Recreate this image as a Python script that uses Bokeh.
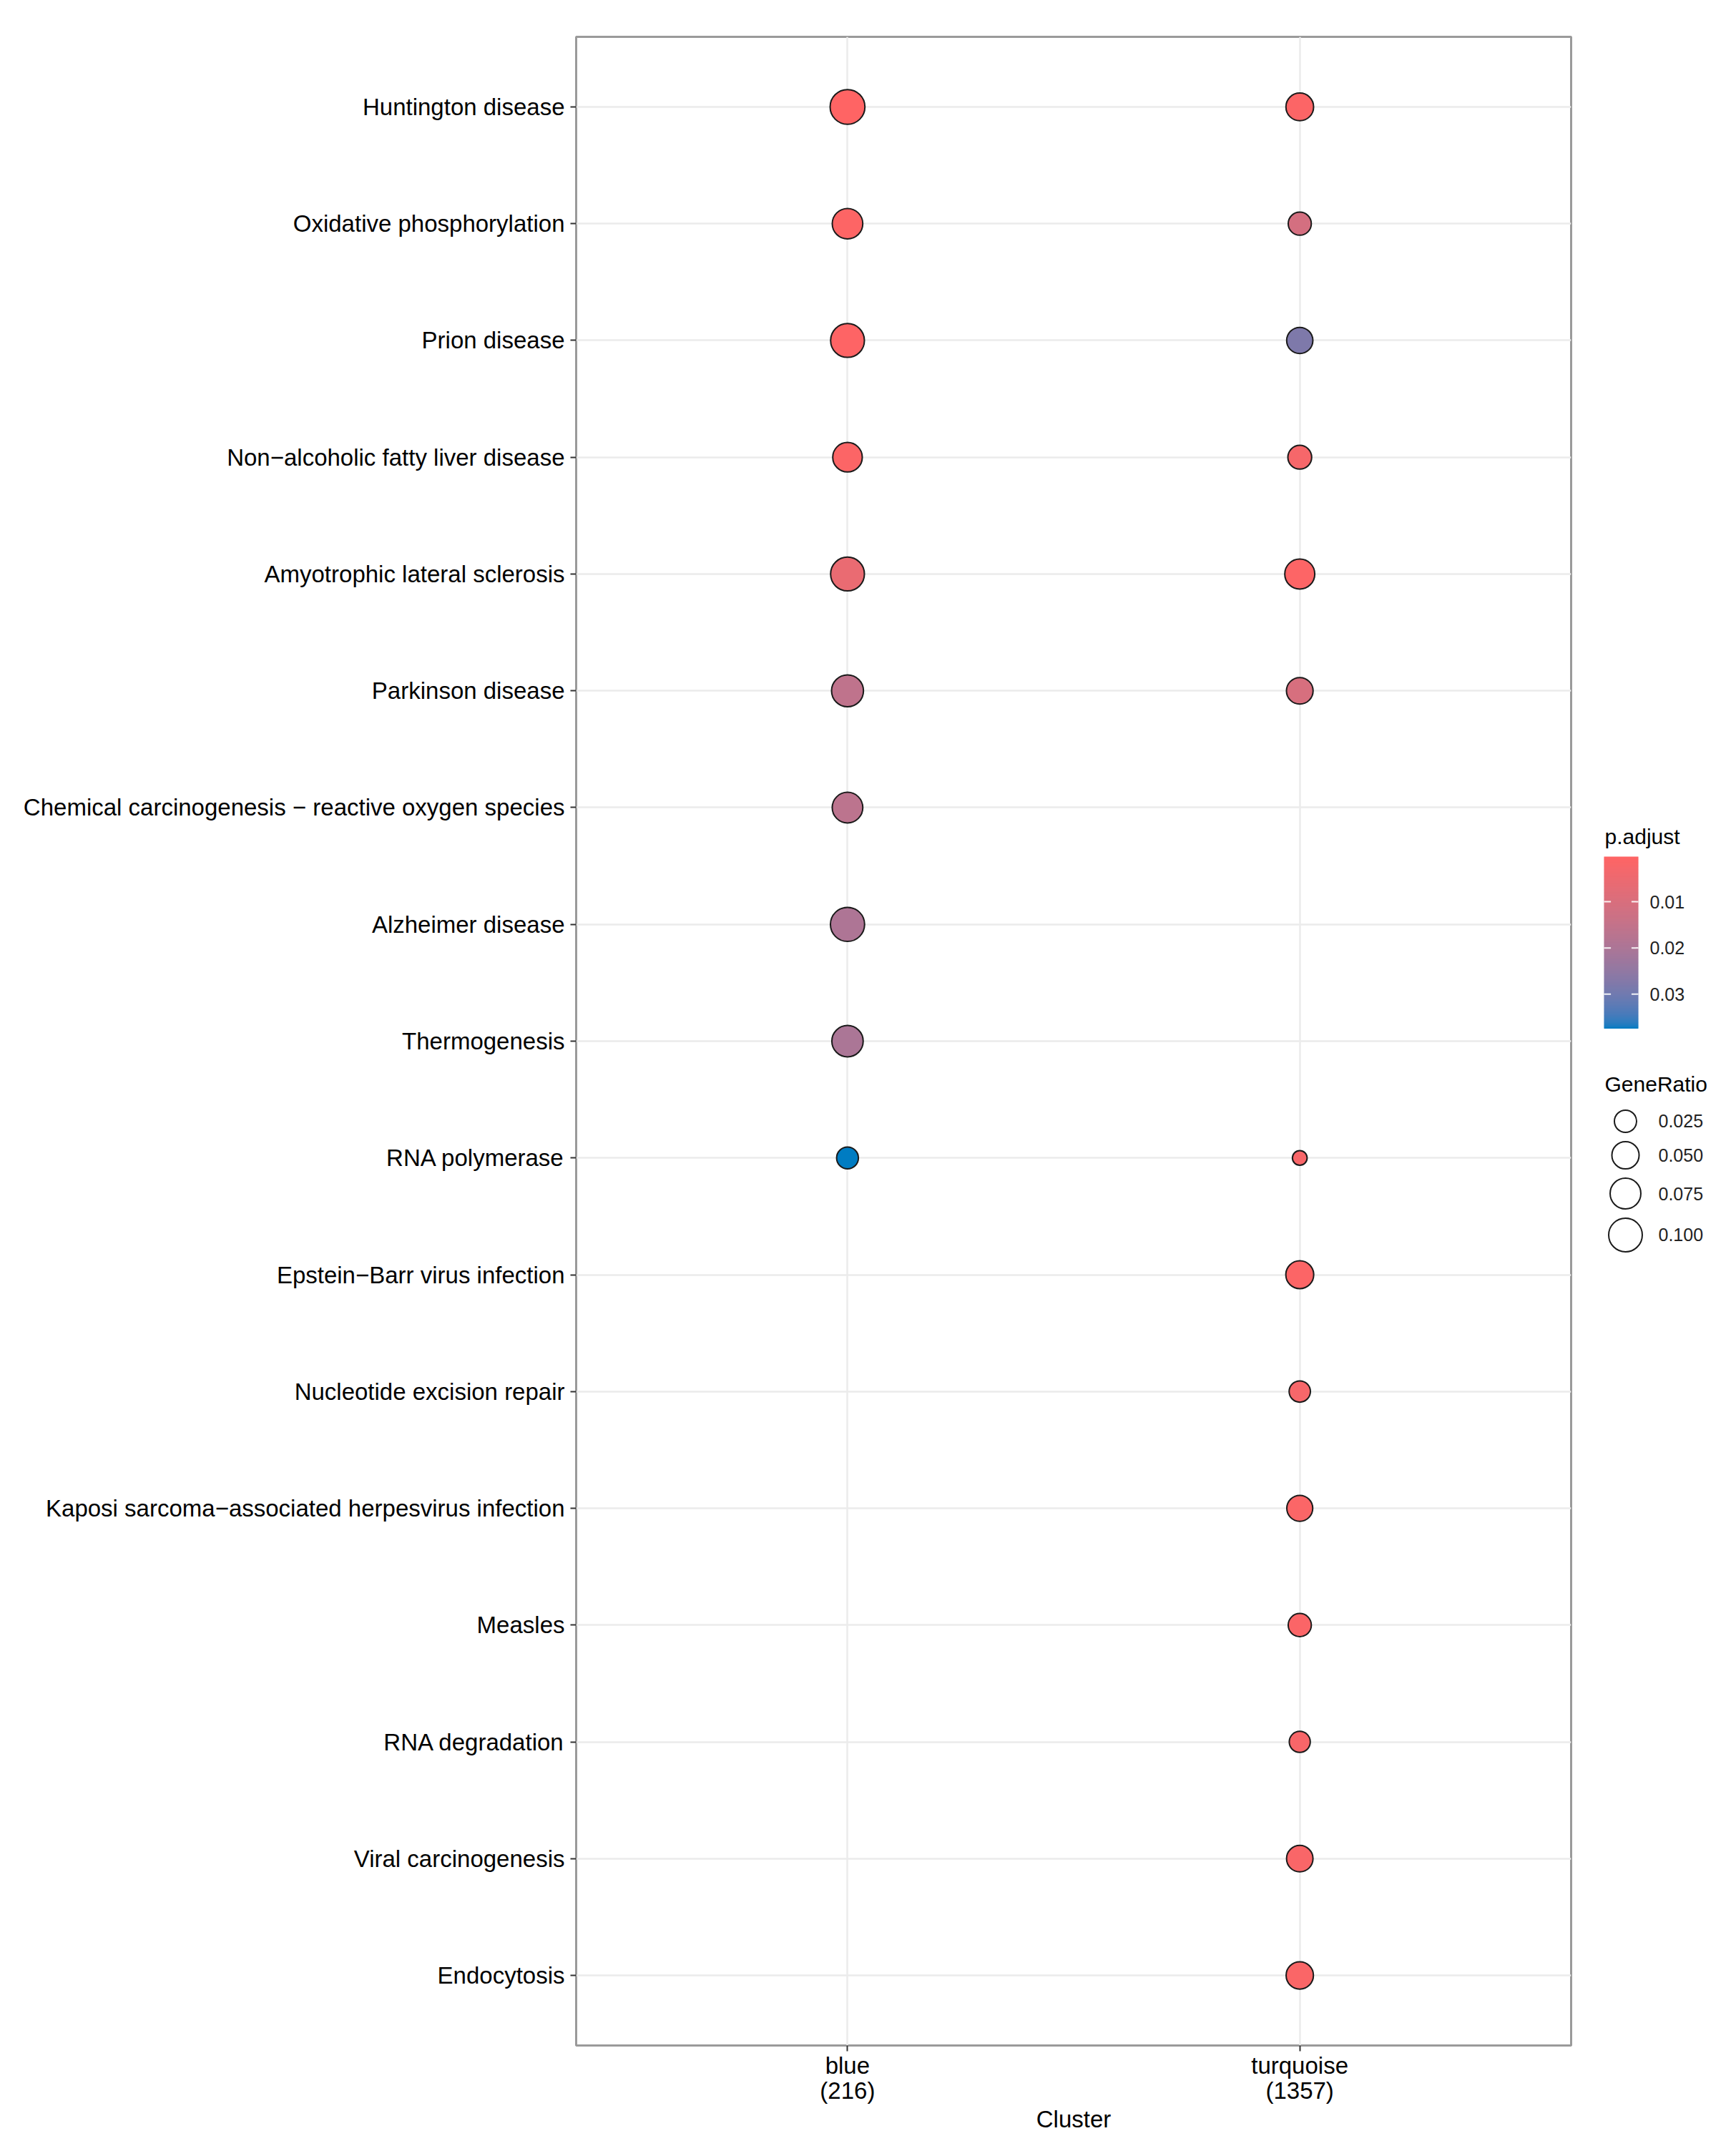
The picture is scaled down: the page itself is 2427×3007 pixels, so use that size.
import numpy as np
from bokeh.plotting import figure
from bokeh.models import (Range1d, FixedTicker, ColumnDataSource, Label)
from bokeh.transform import linear_cmap
from bokeh.layouts import row
from bokeh.embed import file_html
from bokeh.resources import INLINE

# ---------------- data ----------------
pathways = [
    "Huntington disease",
    "Oxidative phosphorylation",
    "Prion disease",
    "Non\u2212alcoholic fatty liver disease",
    "Amyotrophic lateral sclerosis",
    "Parkinson disease",
    "Chemical carcinogenesis \u2212 reactive oxygen species",
    "Alzheimer disease",
    "Thermogenesis",
    "RNA polymerase",
    "Epstein\u2212Barr virus infection",
    "Nucleotide excision repair",
    "Kaposi sarcoma\u2212associated herpesvirus infection",
    "Measles",
    "RNA degradation",
    "Viral carcinogenesis",
    "Endocytosis",
]
clusters = ["blue", "turquoise"]
cluster_sizes = [216, 1357]

pt_cluster = ["blue"] * 10 + ["turquoise"] * 14
pt_pathway = [
    "Huntington disease", "Oxidative phosphorylation", "Prion disease",
    "Non\u2212alcoholic fatty liver disease", "Amyotrophic lateral sclerosis",
    "Parkinson disease", "Chemical carcinogenesis \u2212 reactive oxygen species",
    "Alzheimer disease", "Thermogenesis", "RNA polymerase",
    "Huntington disease", "Oxidative phosphorylation", "Prion disease",
    "Non\u2212alcoholic fatty liver disease", "Amyotrophic lateral sclerosis",
    "Parkinson disease", "RNA polymerase", "Epstein\u2212Barr virus infection",
    "Nucleotide excision repair", "Kaposi sarcoma\u2212associated herpesvirus infection",
    "Measles", "RNA degradation", "Viral carcinogenesis", "Endocytosis",
]
gene_ratio = [0.112, 0.0735, 0.102, 0.066, 0.102, 0.085, 0.074, 0.1055, 0.080, 0.0237,
              0.053, 0.0286, 0.0442, 0.0317, 0.0695, 0.0467, 0.0112, 0.0544, 0.022, 0.0426,
              0.0289, 0.0211, 0.0455, 0.0507]
p_adjust = [0.00023, 0.0008, 0.0006, 0.0010, 0.0058, 0.0159, 0.0165, 0.0195, 0.0200, 0.0374,
            0.0012, 0.0110, 0.0281, 0.0028, 0.0009, 0.0105, 0.0020, 0.0011, 0.0025, 0.0015,
            0.0013, 0.0022, 0.0018, 0.0016]

size_breaks = [0.025, 0.050, 0.075, 0.100]
color_breaks = [0.01, 0.02, 0.03]

# ---------------- style / layout ----------------
FONT = "Liberation Sans"
LOW_COL = "#FF6464"
HIGH_COL = "#007CC2"
FRAME_L, FRAME_T, FRAME_W, FRAME_H = 805, 51, 1391, 2808
BORDER_R, BORDER_B = 12, 140
MAIN_W = FRAME_L + FRAME_W + BORDER_R
H = FRAME_T + FRAME_H + BORDER_B
LEG_W = 210
LEG_DY = -52          # vertical correction of the legend panel placement
STROKE = 2
D_MIN, D_MAX = 22.6, 50.7   # outer diameter range of points (px)


# ---------------- colour scale (Lab interpolation like ggplot) ----------------
def hex_to_rgb(h):
    h = h.lstrip("#")
    return np.array([int(h[i:i + 2], 16) for i in (0, 2, 4)]) / 255.0


M = np.array([[0.4124564, 0.3575761, 0.1804375],
              [0.2126729, 0.7151522, 0.0721750],
              [0.0193339, 0.1191920, 0.9503041]])
WHITE = np.array([0.95047, 1.0, 1.08883])


def rgb_to_lab(c):
    lin = np.where(c <= 0.04045, c / 12.92, ((c + 0.055) / 1.055) ** 2.4)
    xyz = M @ lin / WHITE
    f = np.where(xyz > 0.008856, np.cbrt(xyz), 7.787 * xyz + 16 / 116)
    return np.array([116 * f[1] - 16, 500 * (f[0] - f[1]), 200 * (f[1] - f[2])])


def lab_to_hex(lab):
    L, a, b = lab
    fy = (L + 16) / 116
    fx = fy + a / 500
    fz = fy - b / 200
    f = np.array([fx, fy, fz])
    xyz = np.where(f ** 3 > 0.008856, f ** 3, (f - 16 / 116) / 7.787) * WHITE
    lin = np.linalg.inv(M) @ xyz
    lin = np.clip(lin, 0, 1)
    c = np.where(lin <= 0.0031308, 12.92 * lin, 1.055 * lin ** (1 / 2.4) - 0.055)
    c = np.clip(np.round(c * 255), 0, 255).astype(int)
    return "#%02x%02x%02x" % tuple(c)


lab_lo, lab_hi = rgb_to_lab(hex_to_rgb(LOW_COL)), rgb_to_lab(hex_to_rgb(HIGH_COL))
palette = [lab_to_hex(lab_lo + (lab_hi - lab_lo) * t) for t in np.linspace(0, 1, 256)]

p_lo, p_hi = min(p_adjust), max(p_adjust)
g_lo, g_hi = min(gene_ratio), max(gene_ratio)


def size_scale(v):
    v = np.asarray(v, dtype=float)
    return D_MIN + (D_MAX - D_MIN) * np.sqrt(np.clip((v - g_lo) / (g_hi - g_lo), 0, 1))


# ---------------- main plot ----------------
xs = [clusters.index(c) + 1 for c in pt_cluster]
ys = [pathways.index(pw) + 1 for pw in pt_pathway]
src = ColumnDataSource(dict(x=xs, y=ys, size=size_scale(gene_ratio) - STROKE,
                            p=p_adjust, ratio=gene_ratio))

n = len(pathways)
p = figure(width=MAIN_W, height=H, frame_width=FRAME_W, frame_height=FRAME_H, title=None,
           x_range=Range1d(0.4, len(clusters) + 0.6),
           y_range=Range1d(n + 0.6, 0.4),
           output_backend="svg", toolbar_location=None,
           min_border_left=FRAME_L, min_border_top=FRAME_T, min_border_right=BORDER_R,
           min_border_bottom=BORDER_B)
p.background_fill_color = "white"
p.outline_line_color = "#9a9a9a"
p.outline_line_width = 3

p.xaxis.ticker = FixedTicker(ticks=list(range(1, len(clusters) + 1)))
p.xaxis.major_label_overrides = {i + 1: f"{c}\n({s})" for i, (c, s) in enumerate(zip(clusters, cluster_sizes))}
p.yaxis.ticker = FixedTicker(ticks=list(range(1, n + 1)))
p.yaxis.major_label_overrides = {i + 1: name for i, name in enumerate(pathways)}

for ax in (p.xaxis, p.yaxis):
    ax.major_label_text_font = FONT
    ax.major_label_text_font_size = "33px"
    ax.major_label_text_color = "black"
    ax.axis_line_color = None
    ax.major_tick_line_color = "#333333"
    ax.major_tick_line_width = 2
    ax.major_tick_out = 8
    ax.major_tick_in = 0
    ax.minor_tick_line_color = None
p.yaxis.major_label_standoff = 8
p.xaxis.major_label_standoff = 1
p.xaxis.major_label_text_line_height = 0.95
p.xaxis.axis_label = "Cluster"
p.xaxis.axis_label_text_font = FONT
p.xaxis.axis_label_text_font_size = "33px"
p.xaxis.axis_label_text_font_style = "normal"
p.xaxis.axis_label_text_color = "black"
p.xaxis.axis_label_standoff = 0

p.xgrid.ticker = p.xaxis.ticker
p.ygrid.ticker = p.yaxis.ticker
for g in (p.xgrid, p.ygrid):
    g.grid_line_color = "#EBEBEB"
    g.grid_line_width = 2.5

p.scatter(x="x", y="y", size="size", source=src, marker="circle",
          fill_color=linear_cmap("p", palette, p_lo, p_hi),
          line_color="#1a1a1a", line_width=STROKE)

# ---------------- legend panel (pixel coordinates, y downward) ----------------
L = figure(frame_width=LEG_W, frame_height=H, title=None,
           x_range=Range1d(0, LEG_W), y_range=Range1d(H, 0),
           x_axis_type=None, y_axis_type=None, output_backend="svg", toolbar_location=None,
           min_border=0)
L.grid.visible = False
L.outline_line_color = None

# colour bar (drawn from the same colour mapper)
bar_left, bar_top, bar_w, bar_h = 34, 1198 + LEG_DY, 48, 240
N = 120
vals = p_lo + (np.arange(N) + 0.5) / N * (p_hi - p_lo)
seg_top = bar_top + np.arange(N) * bar_h / N
bar_src = ColumnDataSource(dict(top=seg_top, bottom=seg_top + bar_h / N + 0.6, v=vals))
L.quad(left=bar_left, right=bar_left + bar_w, top="top", bottom="bottom", source=bar_src,
       fill_color=linear_cmap("v", palette, p_lo, p_hi), line_color=None)


def bar_y(v):
    return bar_top + (np.asarray(v) - p_lo) / (p_hi - p_lo) * bar_h


tick_y = bar_y(color_breaks)
tl = bar_w / 5
L.segment(x0=[bar_left] * 3, x1=[bar_left + tl] * 3, y0=tick_y, y1=tick_y,
          line_color="white", line_width=2, line_alpha=0.9)
L.segment(x0=[bar_left + bar_w - tl] * 3, x1=[bar_left + bar_w] * 3, y0=tick_y, y1=tick_y,
          line_color="white", line_width=2, line_alpha=0.9)
L.text(x=[bar_left + bar_w + 16] * 3, y=tick_y, text=["%.2f" % v for v in color_breaks],
       text_font_size="25px", text_color="#222222", text_baseline="middle",
       text_font={"value": FONT})
L.add_layout(Label(x=bar_left + 1, y=bar_top - 28, text="p.adjust", text_font=FONT,
                   text_font_size="30px", text_color="black", text_baseline="middle"))

# size legend
title_y = 1516 + LEG_DY
L.add_layout(Label(x=bar_left + 1, y=title_y, text="GeneRatio", text_font=FONT, text_font_size="30px",
                   text_color="black", text_baseline="middle"))
outer = size_scale(size_breaks)
key_h = outer + 11
centres = title_y + 30 + np.cumsum(key_h) - key_h / 2
L.scatter(x=[64] * len(size_breaks), y=centres, size=outer - STROKE, marker="circle",
          fill_color="white", line_color="#1a1a1a", line_width=STROKE)
L.text(x=[110] * len(size_breaks), y=centres, text=["%.3f" % v for v in size_breaks],
       text_font_size="25px", text_color="#222222", text_baseline="middle",
       text_font={"value": FONT})

layout = row(p, L)
open("out.html", "w").write(file_html(layout, INLINE))
